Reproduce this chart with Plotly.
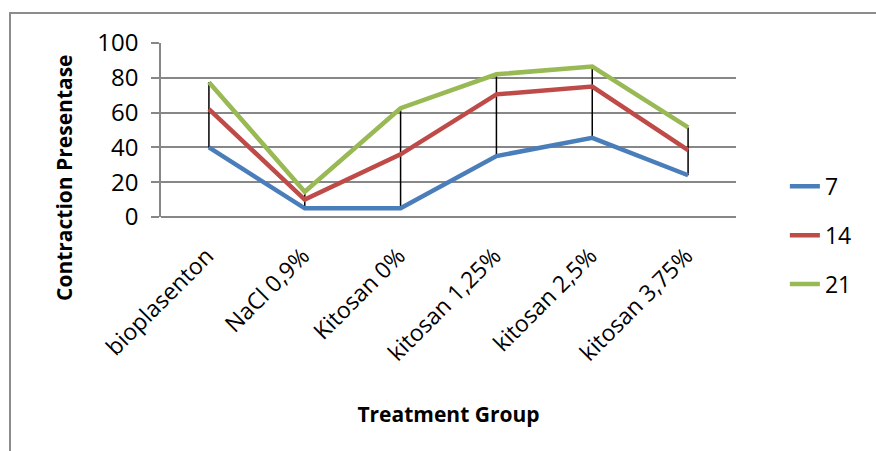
import plotly.graph_objects as go

categories = ["bioplasenton", "NaCl 0,9%", "Kitosan 0%", "kitosan 1,25%", "kitosan 2,5%", "kitosan 3,75%"]
series_names = ["7", "14", "21"]
values_7 = [40, 5, 5, 35, 45.5, 24]
values_14 = [62, 10, 36, 70.5, 75, 38.5]
values_21 = [77.5, 14.5, 62.5, 82, 86.5, 51.5]
y_ticks = [0, 20, 40, 60, 80, 100]

colors = ["#4A7EBB", "#BE4B48", "#98B954"]
all_series = [values_7, values_14, values_21]

fig = go.Figure()

# high-low lines
hx, hy = [], []
for i, c in enumerate(categories):
    vals = [s[i] for s in all_series]
    hx += [c, c, None]
    hy += [min(vals), max(vals), None]
fig.add_trace(go.Scatter(x=hx, y=hy, mode="lines", line=dict(color="black", width=1.5),
                         showlegend=False, hoverinfo="skip"))

for name, vals, col in zip(series_names, all_series, colors):
    fig.add_trace(go.Scatter(x=categories, y=vals, mode="lines", name=name,
                             legendgroup=name,
                             line=dict(color=col, width=4.5)))

font_family = "Open Sans, sans-serif"

fig.update_layout(
    width=876, height=451,
    margin=dict(l=161, r=140, t=43, b=234),
    plot_bgcolor="white", paper_bgcolor="white",
    font=dict(family=font_family, size=20, color="black"),
    showlegend=True,
    legend=dict(x=1.085, y=0.3, xanchor="left", yanchor="top",
                font=dict(size=23, color="black"), tracegroupgap=16,
                bgcolor="rgba(0,0,0,0)"),
    xaxis=dict(type="category", range=[-0.5, 5.5], tickangle=-45,
               showline=False, showgrid=False, ticks="",
               tickfont=dict(size=23), ticklabelstandoff=20, ticklabelshift=-2,
               title=dict(text="<b>Treatment Group</b>", font=dict(size=21), standoff=40)),
    yaxis=dict(range=[0, 100], tickvals=y_ticks, showgrid=True, gridcolor="#878787",
               gridwidth=1.5, zeroline=True, zerolinecolor="#878787", zerolinewidth=1.5,
               showline=True, linecolor="#878787", linewidth=1.5,
               ticks="outside", ticklen=8, tickcolor="#878787", tickwidth=1.5,
               tickfont=dict(size=24), ticklabelstandoff=8),
    annotations=[dict(text="<b>Contraction Presentase</b>", textangle=-90,
                      xref="paper", yref="paper", x=(64 - 161) / 575, y=(217 - 178) / 174,
                      xanchor="center", yanchor="middle", showarrow=False,
                      font=dict(size=21, color="black"))],
    shapes=[dict(type="rect", xref="paper", yref="paper",
                 x0=(10 - 161) / 575, x1=(880 - 161) / 575,
                 y0=(217 - 460) / 174, y1=(217 - 13) / 174,
                 line=dict(color="#8C8C8C", width=2), fillcolor="rgba(0,0,0,0)", layer="below")],
)

fig.write_html("out.html")
